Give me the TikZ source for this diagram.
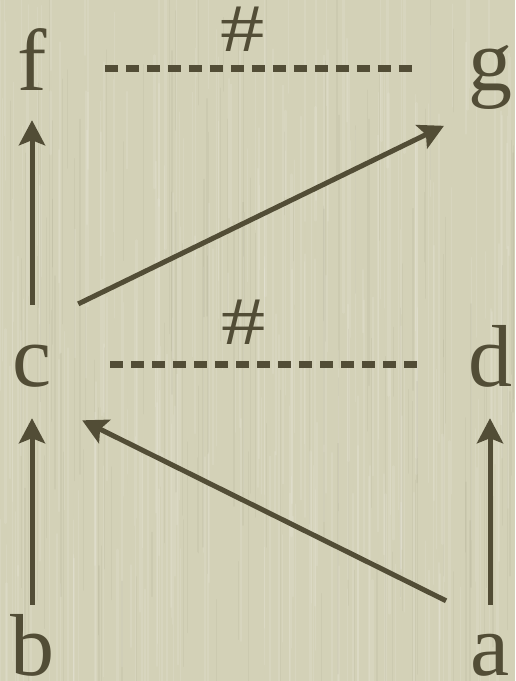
\documentclass[tikz,border=0pt]{standalone}
\usepackage{fontspec}
\setmainfont{Liberation Serif}
\usetikzlibrary{positioning, arrows.meta, calc}
\definecolor{paper}{RGB}{211,209,183}
\definecolor{ink}{RGB}{82,77,54}

\begin{document}
\begin{tikzpicture}[
  x=1pt, y=-1pt,
  >={Stealth[length=25pt, width=26pt, inset=5pt]},
  letter/.style={inner sep=0pt, text=ink, font=\fontsize{88}{96}\selectfont,
                 text height=62pt, text depth=19pt, anchor=base},
  link/.style={->, line width=5pt, draw=ink},
  noteq/.style={line width=6.5pt, draw=ink, dash pattern=on 13pt off 8pt},
  hash/.style={text=ink, font=\fontsize{68}{72}\selectfont, inner sep=0pt,
               text height=44pt, xscale=1.3},
  streak/.style={line cap=round, opacity=0.1},
]

% ── paper ────────────────────────────────────────────────────────────────────
\useasboundingbox (0,0) rectangle (515,681);
\fill[paper] (0,0) rectangle (515,681);
\begin{scope}
  \clip (0,0) rectangle (515,681);
  \pgfmathsetseed{11}
  \foreach \i in {1,...,260}{
    \pgfmathsetmacro{\sx}{rnd*515}
    \pgfmathsetmacro{\sy}{rnd*640-40}
    \pgfmathsetmacro{\sl}{60+rnd*360}
    \pgfmathsetmacro{\sw}{0.6+rnd*2.2}
    \draw[streak, white, line width=\sw pt] (\sx,\sy) -- (\sx,\sy+\sl);
  }
  \foreach \i in {1,...,120}{
    \pgfmathsetmacro{\sx}{rnd*515}
    \pgfmathsetmacro{\sy}{rnd*640-40}
    \pgfmathsetmacro{\sl}{60+rnd*300}
    \pgfmathsetmacro{\sw}{0.5+rnd*1.2}
    \draw[streak, ink, opacity=0.05, line width=\sw pt] (\sx,\sy) -- (\sx,\sy+\sl);
  }
\end{scope}

% ── points ───────────────────────────────────────────────────────────────────
% left column x = 32, right column x = 490; baselines 90, 386, 675
\node[letter] (f) at (32,90)  {f};
\node[letter] (g) at (490,90) {g};
\node[letter] (c) at (32,386) {c};
\node[letter] (d) at (490,386) {d};
\node[letter, text depth=4pt] (b) at (32,675) {b};
\node[letter, text depth=4pt] (a) at (490,675) {a};

% ── arrows ───────────────────────────────────────────────────────────────────
\draw[link, shorten <=19pt, shorten >=11pt] (c.north) -- (f.south);
\draw[link, shorten <=8pt, shorten >=13pt]  (b.north) -- (c.south);
\draw[link, shorten <=8pt, shorten >=13pt]  (a.north) -- (d.south);
\draw[link, shorten <=27pt, shorten >=34pt] (a.north west) -- (c.south east);
\draw[link, shorten <=29.5pt, shorten >=26.5pt]
  ([yshift=7pt]c.north east) -- ([yshift=-5pt]g.south west);

% ── not equal ────────────────────────────────────────────────────────────────
\draw[noteq, shorten <=58pt, shorten >=53pt] (f.east) --
  node[hash, pos=0.465, above=14pt] (h1) {\#} (g.west);
\draw[noteq, shorten <=58.5pt, shorten >=50pt] (c.east) --
  node[hash, pos=0.462, above=17pt] (h2) {\#} (d.west);

\end{tikzpicture}
\end{document}
